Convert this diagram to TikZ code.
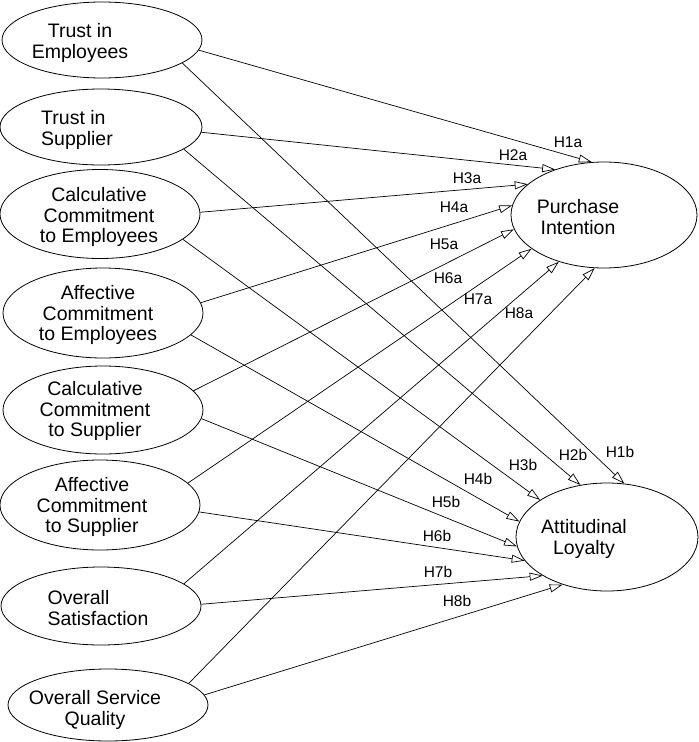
\documentclass[tikz,border=0pt]{standalone}
\usepackage{fontspec}
\setmainfont{Liberation Sans}
\usetikzlibrary{arrows.meta,shapes.geometric}

\begin{document}
\begin{tikzpicture}[x=1pt, y=-1pt,
    latent/.style={draw, ellipse, inner sep=0pt, line width=0.8pt},
    ltext/.style={align=center, inner sep=0pt, font=\fontsize{19.5}{20.5}\selectfont},
    hyp/.style={inner sep=1pt, font=\fontsize{15.5}{17}\selectfont},
    causal/.style={-{Triangle[open, length=13pt, width=8pt]}, line width=0.7pt}]
    \useasboundingbox (0,0) rectangle (699,742);

    % Antecedents
    \node[latent, minimum width=200, minimum height=76] (te) at (102,40) {};
    \node[latent, minimum width=202, minimum height=76] (ts) at (101,127) {};
    \node[latent, minimum width=200, minimum height=89] (cce) at (100,214) {};
    \node[latent, minimum width=200, minimum height=90] (ace) at (103,313) {};
    \node[latent, minimum width=200, minimum height=88] (ccs) at (103,410) {};
    \node[latent, minimum width=200, minimum height=90] (acs) at (100,505) {};
    \node[latent, minimum width=200, minimum height=78] (os) at (101,606) {};
    \node[latent, minimum width=200, minimum height=72] (osq) at (108,705) {};

    % Outcomes
    \node[latent, minimum width=186, minimum height=106] (pi) at (604,215) {};
    \node[latent, minimum width=182, minimum height=108] (al) at (607,537) {};

    % Construct names
    \node[ltext] (te-t) at (80,43) {Trust in\\Employees};
    \node[ltext, align=left] (ts-t) at (77,130) {Trust in\\Supplier};
    \node[ltext] (cce-t) at (99,217) {Calculative\\Commitment\\to Employees};
    \node[ltext] (ace-t) at (98,315) {Affective\\Commitment\\to Employees};
    \node[ltext] (ccs-t) at (95,411) {Calculative\\Commitment\\to Supplier};
    \node[ltext] (acs-t) at (92,507) {Affective\\Commitment\\to Supplier};
    \node[ltext, align=left] (os-t) at (98,608) {Overall\\Satisfaction};
    \node[ltext] (osq-t) at (95,710) {Overall Service\\Quality};
    \node[ltext] (pi-t) at (578,217) {Purchase\\Intention};
    \node[ltext] (al-t) at (584,539) {Attitudinal\\Loyalty};

    % Paths to purchase intention
    \draw[causal] (te.354) -- (pi.103);
    \draw[causal] (ts.357) -- (pi.137);
    \draw[causal] (cce.1) -- (pi.158);
    \draw[causal] (ace.6) -- (pi.174);
    \draw[causal] (ccs.12) -- (pi.189);
    \draw[causal] (acs.14) -- (pi.205);
    \draw[causal] (os.15) -- (pi.226);
    \draw[causal] (osq.15) -- (pi.260);

    % Paths to attitudinal loyalty
    \draw[causal] (te.344) -- (al.72);
    \draw[causal] (ts.345) -- (al.117);
    \draw[causal] (cce.343) -- (al.151);
    \draw[causal] (ace.346) -- (al.170);
    \draw[causal] (ccs.355) -- (al.186);
    \draw[causal] (acs.356) -- (al.196);
    \draw[causal] (os.1) -- (al.211);
    \draw[causal] (osq.6) -- (al.227);

    % Hypothesis labels
    \node[hyp] (h1a) at (568,142) {H1a};
    \node[hyp] (h2a) at (513,155) {H2a};
    \node[hyp] (h3a) at (467,178) {H3a};
    \node[hyp] (h4a) at (454,207) {H4a};
    \node[hyp] (h5a) at (444,244) {H5a};
    \node[hyp] (h6a) at (448,278) {H6a};
    \node[hyp] (h7a) at (478,299) {H7a};
    \node[hyp] (h8a) at (519,313) {H8a};
    \node[hyp] (h1b) at (620,452) {H1b};
    \node[hyp] (h2b) at (573,455) {H2b};
    \node[hyp] (h3b) at (523,465) {H3b};
    \node[hyp] (h4b) at (478,479) {H4b};
    \node[hyp] (h5b) at (446,502) {H5b};
    \node[hyp] (h6b) at (437,536) {H6b};
    \node[hyp] (h7b) at (438,572) {H7b};
    \node[hyp] (h8b) at (457,601) {H8b};
\end{tikzpicture}
\end{document}
